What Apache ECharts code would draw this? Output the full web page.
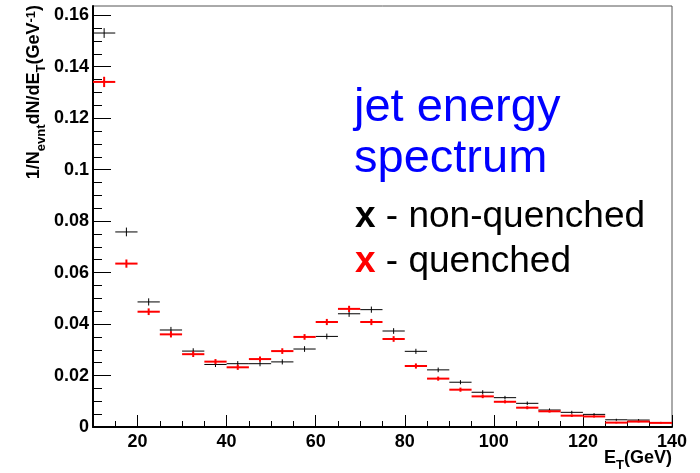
<!DOCTYPE html>
<html>
<head>
<meta charset="utf-8">
<script src="https://cdn.jsdelivr.net/npm/echarts@6/dist/echarts.min.js"></script>
<style>
html,body{margin:0;padding:0;background:#fff;}
#chart{width:700px;height:473px;}
</style>
</head>
<body>
<div id="chart"></div>
<script>
// ---- data ----
var binLow  = [10,15,20,25,30,35,40,45,50,55,60,65,70,75,80,85,90,95,100,105,110,115,120,125,130,135];
var binHigh = [15,20,25,30,35,40,45,50,55,60,65,70,75,80,85,90,95,100,105,110,115,120,125,130,135,140];
var nonQuenched = [0.1531,0.0758,0.0486,0.0377,0.0295,0.0243,0.0246,0.0246,0.0253,0.0303,0.0352,0.0440,0.0456,0.0373,0.0294,0.0222,0.0174,0.0135,0.0114,0.0092,0.0066,0.0057,0.0049,0.0028,0.0027,0.0017];
var nonQuenchedErr = [0.0019,0.0017,0.0014,0.0012,0.0011,0.0010,0.0010,0.0010,0.0010,0.0011,0.0011,0.0012,0.0012,0.0011,0.0010,0.0009,0.0008,0.0008,0.0007,0.0007,0.0006,0.0006,0.0005,0.0004,0.0004,0.0003];
var quenched = [0.1341,0.0635,0.0448,0.0360,0.0283,0.0254,0.0232,0.0264,0.0295,0.0350,0.0408,0.0459,0.0408,0.0342,0.0237,0.0188,0.0145,0.0119,0.0098,0.0075,0.0061,0.0044,0.0041,0.0017,0.0021,0.0016];
var quenchedErr = [0.0020,0.0016,0.0013,0.0012,0.0011,0.0010,0.0010,0.0010,0.0011,0.0011,0.0012,0.0012,0.0012,0.0011,0.0010,0.0008,0.0008,0.0007,0.0006,0.0006,0.0005,0.0005,0.0004,0.0003,0.0003,0.0003];
var xMajorTicks = [20,40,60,80,100,120,140];
var xMinorTicks = [15,25,30,35,45,50,55,65,70,75,85,90,95,105,110,115,125,130,135];
var yMajorTicks = [0,0.02,0.04,0.06,0.08,0.1,0.12,0.14,0.16];
var yMinorTicks = [0.005,0.01,0.015,0.025,0.03,0.035,0.045,0.05,0.055,0.065,0.07,0.075,0.085,0.09,0.095,0.105,0.11,0.115,0.125,0.13,0.135,0.145,0.15,0.155];
var xMin = 10, xMax = 140, yMin = 0, yMax = 0.1636;

var FONT = '"Liberation Sans", Arial, Helvetica, sans-serif';

function build(vals, errs){
  var out = [];
  for (var i = 0; i < vals.length; i++) out.push([binLow[i], binHigh[i], vals[i], errs[i]]);
  return out;
}
function makeRender(color, width){
  return function(params, api){
    var x0 = api.value(0), x1 = api.value(1), y = api.value(2), e = api.value(3);
    var xm = (x0 + x1) / 2;
    var a = api.coord([x0, y]), b = api.coord([x1, y]);
    var t = api.coord([xm, y + e]), s = api.coord([xm, y - e]);
    var st = {stroke: color, lineWidth: width};
    return {type: 'group', children: [
      {type: 'line', shape: {x1: a[0], y1: a[1], x2: b[0], y2: b[1]}, style: st},
      {type: 'line', shape: {x1: t[0], y1: t[1], x2: s[0], y2: s[1]}, style: st}
    ]};
  };
}

var chart = echarts.init(document.getElementById('chart'), null, {renderer: 'canvas'});
chart.setOption({
  backgroundColor: '#fff',
  animation: false,
  grid: {left: 93, right: 28, top: 6, bottom: 46, show: true, borderColor: '#555', borderWidth: 1, backgroundColor: 'transparent'},
  xAxis: [{
    type: 'value', min: xMin, max: xMax, position: 'bottom',
    axisLine: {show: true, onZero: false, lineStyle: {color: '#000', width: 2}},
    axisTick: {show: true, inside: true, length: 12, customValues: xMajorTicks, lineStyle: {color: '#000', width: 1}},
    axisLabel: {show: true, customValues: xMajorTicks, margin: 6, color: '#000', fontSize: 18, fontWeight: 'bold', fontFamily: FONT},
    splitLine: {show: false}
  },{
    type: 'value', min: xMin, max: xMax, position: 'bottom',
    axisLine: {show: false},
    axisTick: {show: true, inside: true, length: 6, customValues: xMinorTicks, lineStyle: {color: '#000', width: 1}},
    axisLabel: {show: false},
    splitLine: {show: false}
  }],
  yAxis: [{
    type: 'value', min: yMin, max: yMax, position: 'left',
    axisLine: {show: true, onZero: false, lineStyle: {color: '#000', width: 2}},
    axisTick: {show: true, inside: true, length: 18, customValues: yMajorTicks, lineStyle: {color: '#000', width: 1}},
    axisLabel: {show: true, customValues: yMajorTicks, margin: 4, color: '#000', fontSize: 18, fontWeight: 'bold', fontFamily: FONT},
    splitLine: {show: false}
  },{
    type: 'value', min: yMin, max: yMax, position: 'left',
    axisLine: {show: false},
    axisTick: {show: true, inside: true, length: 9, customValues: yMinorTicks, lineStyle: {color: '#000', width: 1}},
    axisLabel: {show: false},
    splitLine: {show: false}
  }],
  series: [{
    name: 'non-quenched', type: 'custom', xAxisIndex: 0, yAxisIndex: 0,
    renderItem: makeRender('#000000', 1),
    encode: {x: [0, 1], y: 2},
    data: build(nonQuenched, nonQuenchedErr), z: 2
  },{
    name: 'quenched', type: 'custom', xAxisIndex: 0, yAxisIndex: 0,
    renderItem: makeRender('#ff0000', 2),
    encode: {x: [0, 1], y: 2},
    data: build(quenched, quenchedErr), z: 3
  }],
  graphic: [
    {type: 'text', left: 354, top: 85, style: {text: 'jet energy', font: '47px ' + FONT, fill: '#0000ff'}},
    {type: 'text', left: 354, top: 136, style: {text: 'spectrum', font: '47px ' + FONT, fill: '#0000ff'}},
    {type: 'text', left: 355, top: 198, style: {
      text: '{b|x} - non-quenched', font: '37px ' + FONT, fill: '#000',
      rich: {b: {fontWeight: 'bold', fontSize: 37, fontFamily: FONT, fill: '#000'}}}},
    {type: 'text', left: 355, top: 243, style: {
      text: '{r|x} - quenched', font: '37px ' + FONT, fill: '#000',
      rich: {r: {fontWeight: 'bold', fontSize: 37, fontFamily: FONT, fill: '#ff0000'}}}},
    {type: 'text', right: 28, top: 449, style: {
      text: '{m|E}{s|T}{m|(GeV)}',
      rich: {
        m: {fontSize: 18, fontWeight: 'bold', fontFamily: FONT, fill: '#000', verticalAlign: 'bottom', padding: [0,0,5,0]},
        s: {fontSize: 13, fontWeight: 'bold', fontFamily: FONT, fill: '#000', verticalAlign: 'bottom'}
      }}},
    {type: 'text', x: 48, y: 5, rotation: Math.PI / 2, style: {
      text: '{m|1/N}{s|evnt}{m|dN/dE}{s|T}{m|(GeV}{u|-1}{m|)}',
      align: 'right', verticalAlign: 'bottom',
      rich: {
        m: {fontSize: 18, fontWeight: 'bold', fontFamily: FONT, fill: '#000', verticalAlign: 'bottom', padding: [0,0,5,0]},
        s: {fontSize: 13, fontWeight: 'bold', fontFamily: FONT, fill: '#000', verticalAlign: 'bottom'},
        u: {fontSize: 13, fontWeight: 'bold', fontFamily: FONT, fill: '#000', verticalAlign: 'top'}
      }}}
  ]
});
</script>
</body>
</html>
